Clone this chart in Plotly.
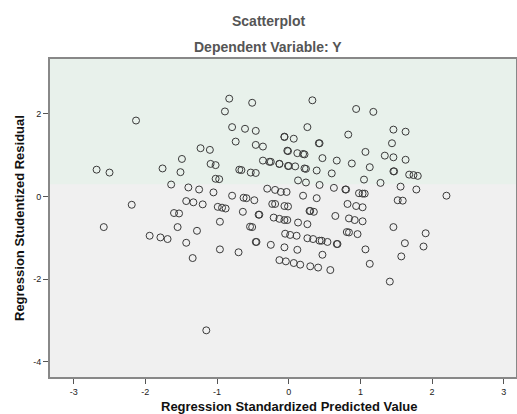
import plotly.graph_objects as go

# Regression Standardized Predicted Value (x) and Studentized Residual (y)
pred = [
    -0.83, -0.51, -0.89, -2.13, -0.79, -0.61, -0.46, -0.06, -0.74, -0.46, -0.36, -0.02,
    -1.23, -1.10, -1.49, -0.36, -0.25, -0.13, -0.01, -1.09, -1.02, -2.68, -2.50, -1.76,
    -1.51, -0.69, -0.66, -0.53, -0.46, -1.02, -0.97, -1.64, -1.40, -1.25, -1.05, -0.79,
    -0.63, -0.59, -0.48, -0.30, -0.19, -0.11, -0.03, -1.43, -1.33, -1.20, -2.19, -0.99,
    -0.93, -0.88, -0.64, -0.42, -0.41, -0.23, -0.19, -0.06, -0.01, -1.60, -1.53, -2.58,
    -1.55, -0.96, -1.28, -0.54, -0.51, -0.21, -0.13, -0.06, -0.02, -1.94, -1.79, -1.69,
    -0.05, -1.43, -1.34, -1.15, -0.96, -0.70, -0.46, -0.45, -0.25, -0.06, -0.13, -0.04,
    0.33, 0.94, 1.18, 0.26, -0.06, 0.07, 0.83, 1.46, 1.63, 0.42, 0.43, 1.44,
    -0.01, 0.12, 0.20, 0.22, 0.47, 0.67, 1.07, 1.34, 1.46, 1.63, -0.27, -0.13,
    0.00, 0.09, 0.22, 0.24, 0.39, 0.60, 0.88, 1.13, 1.46, 1.47, 1.68, 1.74,
    1.80, 0.13, 0.24, 0.43, 0.63, 0.79, 0.80, 1.05, 1.28, 1.56, 1.78, 2.20,
    0.20, 0.39, 0.98, 1.03, 1.06, 1.52, 1.59, 0.29, 0.30, 0.35, 0.82, 0.94,
    1.03, 0.65, 0.84, 0.92, 1.03, 1.46, 1.91, 0.13, 0.26, 0.02, 0.11, 0.26,
    0.34, 0.43, 0.46, 0.54, 0.81, 0.84, 0.96, 0.12, 0.07, 0.16, 0.30, 0.41,
    0.58, 0.47, 0.67, 0.68, 1.07, 1.13, 1.41, 1.62, 1.57, 1.88,
]
resid = [
    2.37, 2.27, 2.06, 1.84, 1.68, 1.64, 1.59, 1.45, 1.33, 1.25, 1.21, 1.11,
    1.17, 1.13, 0.91, 0.87, 0.84, 0.79, 0.74, 0.79, 0.76, 0.65, 0.58, 0.68,
    0.59, 0.65, 0.64, 0.58, 0.57, 0.43, 0.42, 0.29, 0.22, 0.17, 0.10, 0.02,
    -0.03, -0.04, -0.09, 0.19, 0.16, 0.11, 0.11, -0.11, -0.14, -0.19, -0.20, -0.25,
    -0.27, -0.29, -0.37, -0.44, -0.44, -0.18, -0.18, -0.23, -0.24, -0.40, -0.41, -0.74,
    -0.74, -0.61, -0.83, -0.73, -0.74, -0.51, -0.54, -0.57, -0.57, -0.95, -0.99, -1.03,
    -0.90, -1.12, -1.49, -3.24, -1.28, -1.35, -1.10, -1.10, -1.17, -1.23, -1.54, -1.57,
    2.33, 2.12, 2.05, 1.68, 1.44, 1.40, 1.50, 1.62, 1.57, 1.29, 1.29, 1.29,
    1.10, 1.05, 1.03, 1.02, 0.93, 0.87, 1.08, 0.99, 0.95, 0.89, 0.84, 0.79,
    0.74, 0.73, 0.68, 0.67, 0.63, 0.56, 0.80, 0.71, 0.61, 0.61, 0.53, 0.52,
    0.50, 0.39, 0.34, 0.28, 0.21, 0.17, 0.17, 0.41, 0.33, 0.24, 0.17, 0.02,
    0.02, -0.04, 0.08, 0.07, 0.07, -0.09, -0.10, -0.35, -0.35, -0.37, -0.18, -0.23,
    -0.26, -0.47, -0.53, -0.57, -0.60, -0.74, -0.89, -0.63, -0.67, -0.93, -0.95, -1.01,
    -1.03, -1.07, -1.07, -1.10, -0.86, -0.87, -0.91, -1.29, -1.61, -1.65, -1.69, -1.72,
    -1.78, -1.41, -1.15, -1.15, -1.28, -1.63, -2.06, -1.13, -1.45, -1.21,
]

x_ticks = [-3, -2, -1, 0, 1, 2, 3]
y_ticks = [-4, -2, 0, 2]

W, H = 517, 414
L, R, T, B = 50, 1, 59, 37
PW, PH = W - L - R, H - T - B

fig = go.Figure()
fig.add_trace(go.Scatter(
    x=pred, y=resid, mode="markers",
    marker=dict(symbol="circle-open", size=7, color="#3a3a3a", line=dict(width=1)),
    showlegend=False, hoverinfo="skip",
))

# faint watermark-like tint in the upper part of the plot
fig.add_shape(type="rect", xref="paper", yref="y", x0=0, x1=1, y0=0.3, y1=3.33,
              fillcolor="rgba(225,242,232,0.55)", line=dict(width=0), layer="below")

fig.update_layout(
    width=W, height=H,
    margin=dict(l=L, r=R, t=T, b=B, autoexpand=False),
    paper_bgcolor="white", plot_bgcolor="#F0F0F0",
    font=dict(family="Liberation Sans, Arial, sans-serif", color="#333333"),
)
fig.update_xaxes(
    range=[-3.33, 3.17], tickvals=x_ticks, ticktext=[str(v) for v in x_ticks],
    showgrid=False, zeroline=False, ticks="outside", ticklen=5, tickcolor="#555",
    showline=True, linecolor="#888", linewidth=2, mirror=True,
    tickfont=dict(size=9, color="#222"),
)
fig.update_yaxes(
    range=[-4.37, 3.33], tickvals=y_ticks, ticktext=[str(v) for v in y_ticks],
    showgrid=False, zeroline=False, ticks="outside", ticklen=5, tickcolor="#555",
    showline=True, linecolor="#888", linewidth=2, mirror=True,
    tickfont=dict(size=9, color="#222"),
)


def px_x(px):
    return (px - L) / PW


def px_y(py):
    return (H - B - py) / PH


fig.add_annotation(text="<b>Scatterplot</b>", x=px_x(268), y=px_y(21),
                   xref="paper", yref="paper", xanchor="center", yanchor="middle",
                   showarrow=False, font=dict(size=14, color="#555"))
fig.add_annotation(text="<b>Dependent Variable: Y</b>", x=px_x(268), y=px_y(47),
                   xref="paper", yref="paper", xanchor="center", yanchor="middle",
                   showarrow=False, font=dict(size=14, color="#555"))
fig.add_annotation(text="<b>Regression Standardized Predicted Value</b>",
                   x=px_x(289), y=px_y(406), xref="paper", yref="paper",
                   xanchor="center", yanchor="middle", showarrow=False,
                   font=dict(size=13, color="#111"))
fig.add_annotation(text="<b>Regression Studentized Residual</b>", textangle=-90,
                   x=px_x(19), y=px_y(218), xref="paper", yref="paper",
                   xanchor="center", yanchor="middle", showarrow=False,
                   font=dict(size=13, color="#111"))

fig.write_html("out.html", config={"displayModeBar": False},
               post_script="document.body.style.margin='0';")
